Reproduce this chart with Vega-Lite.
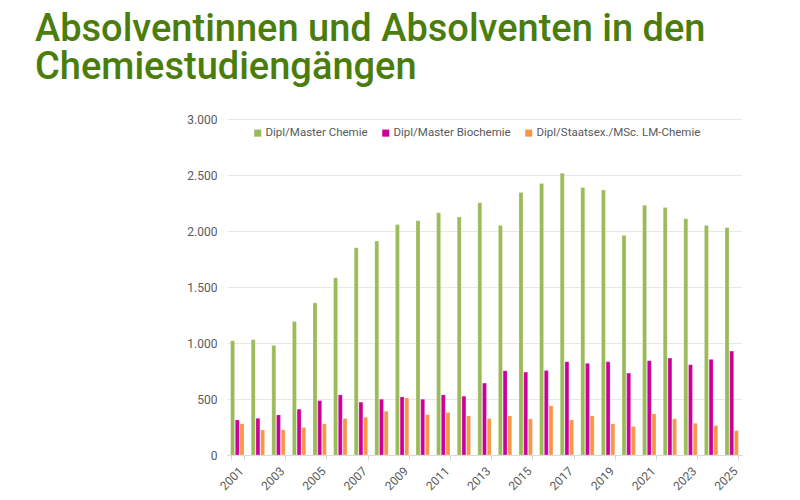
{
  "$schema": "https://vega.github.io/schema/vega-lite/v6.json",
  "width": 515,
  "height": 336,
  "autosize": {"type": "none"},
  "padding": {"left": 227, "top": 119, "right": 58, "bottom": 45},
  "background": "white",
  "title": {
    "text": ["Absolventinnen und Absolventen in den", "Chemiestudiengängen"],
    "anchor": "start",
    "frame": "group",
    "dx": -192,
    "font": "Roboto",
    "fontSize": 38,
    "fontWeight": 500,
    "lineHeight": 38.5,
    "color": "#4a7d0c",
    "offset": 26
  },
  "datasets": {
    "grads": [
      {"year": "2001", "series": "Dipl/Master Chemie", "value": 1020},
      {"year": "2002", "series": "Dipl/Master Chemie", "value": 1030},
      {"year": "2003", "series": "Dipl/Master Chemie", "value": 979},
      {"year": "2004", "series": "Dipl/Master Chemie", "value": 1191},
      {"year": "2005", "series": "Dipl/Master Chemie", "value": 1358},
      {"year": "2006", "series": "Dipl/Master Chemie", "value": 1582},
      {"year": "2007", "series": "Dipl/Master Chemie", "value": 1850},
      {"year": "2008", "series": "Dipl/Master Chemie", "value": 1910},
      {"year": "2009", "series": "Dipl/Master Chemie", "value": 2057},
      {"year": "2010", "series": "Dipl/Master Chemie", "value": 2092},
      {"year": "2011", "series": "Dipl/Master Chemie", "value": 2164},
      {"year": "2012", "series": "Dipl/Master Chemie", "value": 2125},
      {"year": "2013", "series": "Dipl/Master Chemie", "value": 2253},
      {"year": "2014", "series": "Dipl/Master Chemie", "value": 2050},
      {"year": "2015", "series": "Dipl/Master Chemie", "value": 2343},
      {"year": "2016", "series": "Dipl/Master Chemie", "value": 2424},
      {"year": "2017", "series": "Dipl/Master Chemie", "value": 2516},
      {"year": "2018", "series": "Dipl/Master Chemie", "value": 2388},
      {"year": "2019", "series": "Dipl/Master Chemie", "value": 2366},
      {"year": "2020", "series": "Dipl/Master Chemie", "value": 1961},
      {"year": "2021", "series": "Dipl/Master Chemie", "value": 2229},
      {"year": "2022", "series": "Dipl/Master Chemie", "value": 2209},
      {"year": "2023", "series": "Dipl/Master Chemie", "value": 2110},
      {"year": "2024", "series": "Dipl/Master Chemie", "value": 2050},
      {"year": "2025", "series": "Dipl/Master Chemie", "value": 2030},
      {"year": "2001", "series": "Dipl/Master Biochemie", "value": 313},
      {"year": "2002", "series": "Dipl/Master Biochemie", "value": 328},
      {"year": "2003", "series": "Dipl/Master Biochemie", "value": 358},
      {"year": "2004", "series": "Dipl/Master Biochemie", "value": 409},
      {"year": "2005", "series": "Dipl/Master Biochemie", "value": 486},
      {"year": "2006", "series": "Dipl/Master Biochemie", "value": 537},
      {"year": "2007", "series": "Dipl/Master Biochemie", "value": 472},
      {"year": "2008", "series": "Dipl/Master Biochemie", "value": 498},
      {"year": "2009", "series": "Dipl/Master Biochemie", "value": 519},
      {"year": "2010", "series": "Dipl/Master Biochemie", "value": 498},
      {"year": "2011", "series": "Dipl/Master Biochemie", "value": 537},
      {"year": "2012", "series": "Dipl/Master Biochemie", "value": 525},
      {"year": "2013", "series": "Dipl/Master Biochemie", "value": 642},
      {"year": "2014", "series": "Dipl/Master Biochemie", "value": 752},
      {"year": "2015", "series": "Dipl/Master Biochemie", "value": 740},
      {"year": "2016", "series": "Dipl/Master Biochemie", "value": 755},
      {"year": "2017", "series": "Dipl/Master Biochemie", "value": 833},
      {"year": "2018", "series": "Dipl/Master Biochemie", "value": 818},
      {"year": "2019", "series": "Dipl/Master Biochemie", "value": 833},
      {"year": "2020", "series": "Dipl/Master Biochemie", "value": 731},
      {"year": "2021", "series": "Dipl/Master Biochemie", "value": 842},
      {"year": "2022", "series": "Dipl/Master Biochemie", "value": 866},
      {"year": "2023", "series": "Dipl/Master Biochemie", "value": 806},
      {"year": "2024", "series": "Dipl/Master Biochemie", "value": 854},
      {"year": "2025", "series": "Dipl/Master Biochemie", "value": 928},
      {"year": "2001", "series": "Dipl/Staatsex./MSc. LM-Chemie", "value": 278},
      {"year": "2002", "series": "Dipl/Staatsex./MSc. LM-Chemie", "value": 224},
      {"year": "2003", "series": "Dipl/Staatsex./MSc. LM-Chemie", "value": 224},
      {"year": "2004", "series": "Dipl/Staatsex./MSc. LM-Chemie", "value": 245},
      {"year": "2005", "series": "Dipl/Staatsex./MSc. LM-Chemie", "value": 278},
      {"year": "2006", "series": "Dipl/Staatsex./MSc. LM-Chemie", "value": 325},
      {"year": "2007", "series": "Dipl/Staatsex./MSc. LM-Chemie", "value": 337},
      {"year": "2008", "series": "Dipl/Staatsex./MSc. LM-Chemie", "value": 391},
      {"year": "2009", "series": "Dipl/Staatsex./MSc. LM-Chemie", "value": 510},
      {"year": "2010", "series": "Dipl/Staatsex./MSc. LM-Chemie", "value": 361},
      {"year": "2011", "series": "Dipl/Staatsex./MSc. LM-Chemie", "value": 379},
      {"year": "2012", "series": "Dipl/Staatsex./MSc. LM-Chemie", "value": 349},
      {"year": "2013", "series": "Dipl/Staatsex./MSc. LM-Chemie", "value": 325},
      {"year": "2014", "series": "Dipl/Staatsex./MSc. LM-Chemie", "value": 349},
      {"year": "2015", "series": "Dipl/Staatsex./MSc. LM-Chemie", "value": 322},
      {"year": "2016", "series": "Dipl/Staatsex./MSc. LM-Chemie", "value": 439},
      {"year": "2017", "series": "Dipl/Staatsex./MSc. LM-Chemie", "value": 313},
      {"year": "2018", "series": "Dipl/Staatsex./MSc. LM-Chemie", "value": 349},
      {"year": "2019", "series": "Dipl/Staatsex./MSc. LM-Chemie", "value": 278},
      {"year": "2020", "series": "Dipl/Staatsex./MSc. LM-Chemie", "value": 254},
      {"year": "2021", "series": "Dipl/Staatsex./MSc. LM-Chemie", "value": 367},
      {"year": "2022", "series": "Dipl/Staatsex./MSc. LM-Chemie", "value": 322},
      {"year": "2023", "series": "Dipl/Staatsex./MSc. LM-Chemie", "value": 283},
      {"year": "2024", "series": "Dipl/Staatsex./MSc. LM-Chemie", "value": 262},
      {"year": "2025", "series": "Dipl/Staatsex./MSc. LM-Chemie", "value": 218}
    ]
  },
  "data": {"name": "grads"},
  "mark": {"type": "bar", "stroke": "white", "strokeWidth": 0.4, "strokeOpacity": 0.6},
  "encoding": {
    "x": {
      "field": "year",
      "type": "ordinal",
      "scale": {"paddingInner": 0.35, "paddingOuter": 0.175},
      "axis": {
        "title": null,
        "values": ["2001","2003","2005","2007","2009","2011","2013","2015","2017","2019","2021","2023","2025"],
        "tickBand": "extent",
        "labelAngle": -45,
        "labelFont": "Roboto",
        "labelFontSize": 12,
        "labelColor": "#595959",
        "domainColor": "#d9d9d9",
        "tickColor": "#d9d9d9",
        "tickSize": 5,
        "labelPadding": 5,
        "grid": false
      }
    },
    "xOffset": {
      "field": "series",
      "type": "nominal",
      "sort": ["Dipl/Master Chemie", "Dipl/Master Biochemie", "Dipl/Staatsex./MSc. LM-Chemie"],
      "scale": {"paddingInner": 0.15, "paddingOuter": 0}
    },
    "y": {
      "field": "value",
      "type": "quantitative",
      "scale": {"domain": [0, 3000]},
      "axis": {
        "title": null,
        "values": [0, 500, 1000, 1500, 2000, 2500, 3000],
        "labelExpr": "replace(format(datum.value, ',d'), ',', '.')",
        "labelFont": "Roboto",
        "labelFontSize": 12,
        "labelColor": "#595959",
        "labelPadding": 10,
        "domain": false,
        "ticks": false,
        "gridColor": "#e8e8e8",
        "gridWidth": 1
      }
    },
    "color": {
      "field": "series",
      "type": "nominal",
      "sort": ["Dipl/Master Chemie", "Dipl/Master Biochemie", "Dipl/Staatsex./MSc. LM-Chemie"],
      "scale": {
        "domain": ["Dipl/Master Chemie", "Dipl/Master Biochemie", "Dipl/Staatsex./MSc. LM-Chemie"],
        "range": ["#9bbb59", "#cc0099", "#f79646"]
      },
      "legend": {
        "title": null,
        "orient": "none",
        "direction": "horizontal",
        "legendX": 25,
        "legendY": 8,
        "symbolType": "square",
        "symbolSize": 50,
        "symbolStrokeWidth": 0,
        "labelFont": "Roboto",
        "labelFontSize": 11.5,
        "labelColor": "#595959",
        "labelLimit": 400,
        "columnPadding": 12,
        "labelOffset": 2
      }
    }
  },
  "config": {"view": {"stroke": null}}
}
